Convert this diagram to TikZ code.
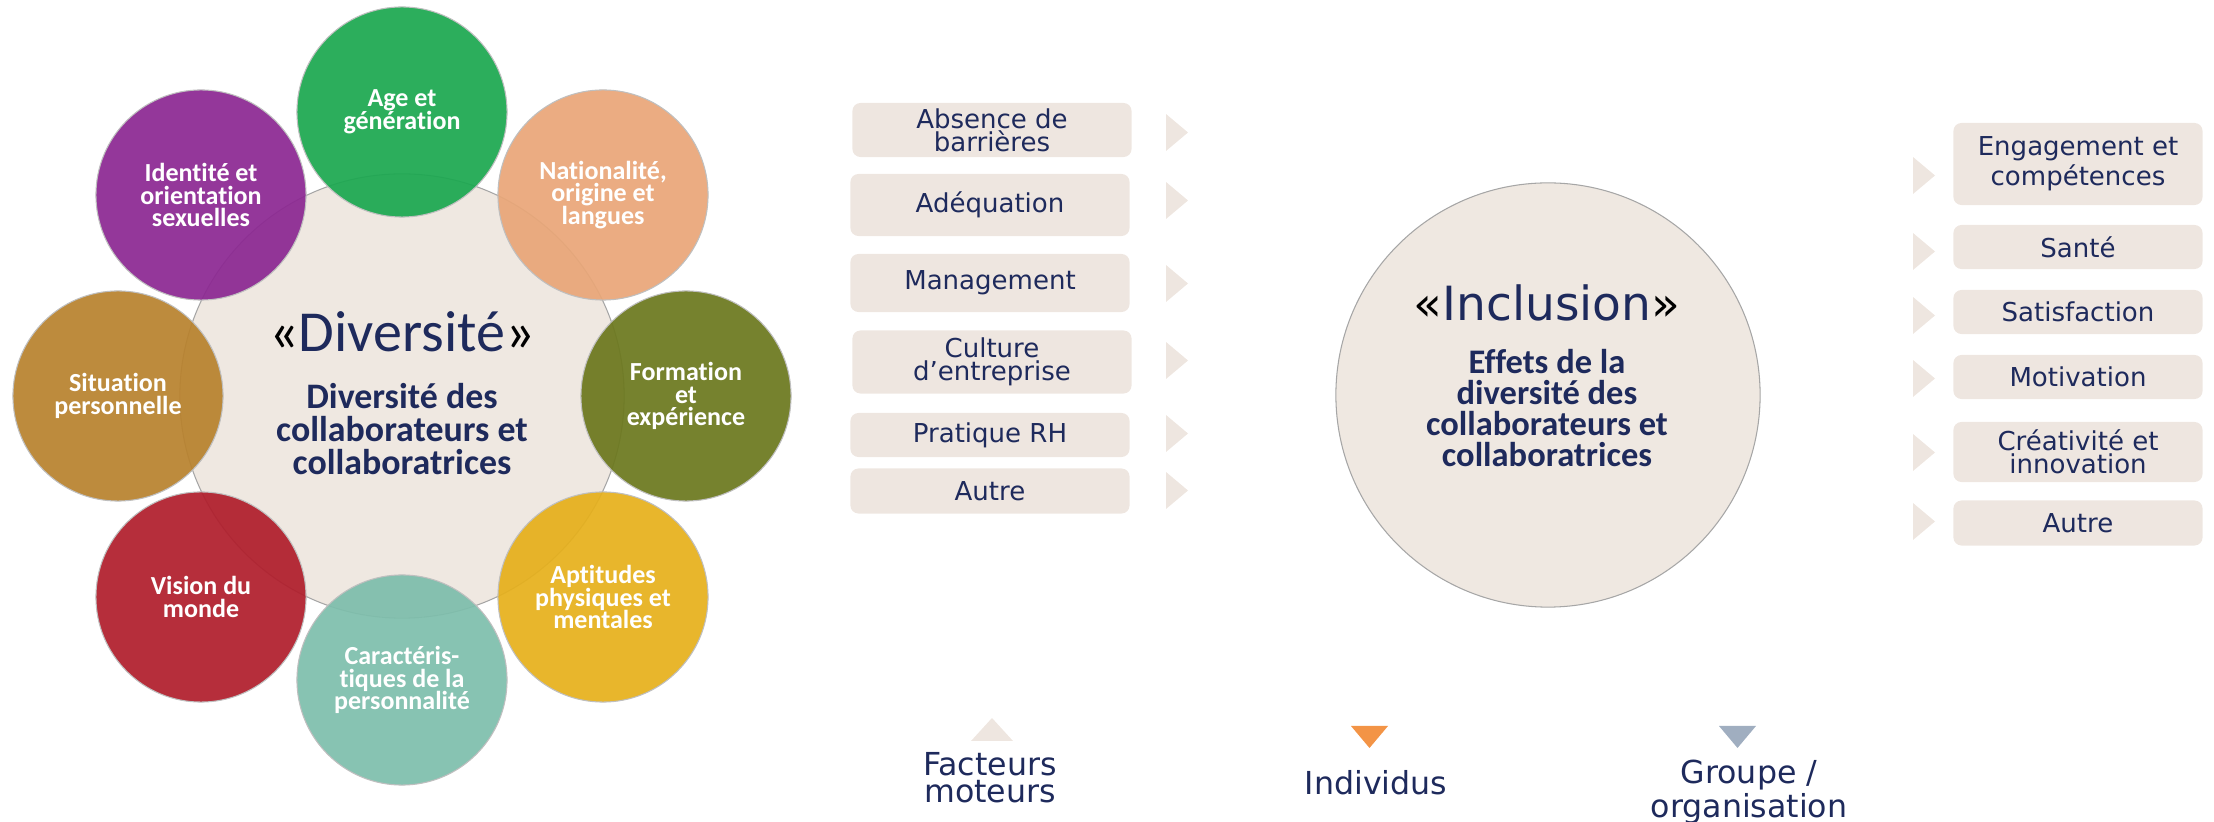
\documentclass[tikz,border=0pt]{standalone}
\usepackage{fontspec}
\setmainfont{DejaVu Sans}
\newfontfamily\calfont[Ligatures={NoCommon,NoContextual}]{Carlito}
\usetikzlibrary{positioning}
\definecolor{navy}{RGB}{30,42,92}
\definecolor{discbg}{RGB}{239,232,225}
\definecolor{boxbg}{RGB}{238,230,224}
\definecolor{cgreen}{RGB}{28,168,80}
\definecolor{cpeach}{RGB}{233,166,120}
\definecolor{colive}{RGB}{108,120,30}
\definecolor{cgold}{RGB}{230,176,28}
\definecolor{cteal}{RGB}{126,190,172}
\definecolor{ccrimson}{RGB}{176,30,44}
\definecolor{cochre}{RGB}{184,130,46}
\definecolor{cpurple}{RGB}{140,40,146}
\definecolor{corange}{RGB}{243,148,70}
\definecolor{cslate}{RGB}{160,174,192}
\begin{document}
\begin{tikzpicture}[x=0.01cm,y=-0.01cm,
bigdisc/.style={
% The shape:
circle,
inner sep=0pt,
fill=discbg,
draw=black!35,
line width=0.3pt
},
facet/.style={
circle,
inner sep=0pt,
minimum size=2.1cm,
draw=black!25,
line width=0.3pt,
fill opacity=0.93,
text opacity=1,
text=white,
align=center,
font=\calfont\bfseries\fontsize{7.4}{6.5}\selectfont
},
factor/.style={
rectangle,rounded corners=0.08cm,
inner sep=0pt,
fill=boxbg,
text=navy,
align=center,
font=\fontsize{7.4}{6.5}\selectfont
},
pointer/.style={fill=boxbg},
legend/.style={text=navy,inner sep=0pt,align=center}
]
\useasboundingbox (0,0) rectangle (2214,822);
% Diversity wheel:
\node (div) [bigdisc,minimum size=4.44cm] at (402,396) {};
\node (age) [facet,fill=cgreen] at (402,112) {Age et\\génération};
\node (nat) [facet,fill=cpeach] at (603,195) {Nationalité,\\origine et\\langues};
\node (form) [facet,fill=colive] at (686,396) {Formation\\et\\expérience};
\node (apt) [facet,fill=cgold] at (603,597) {Aptitudes\\physiques et\\mentales};
\node (carac) [facet,fill=cteal] at (402,680) {Caractéris-\\tiques de la\\personnalité};
\node (vision) [facet,fill=ccrimson] at (201,597) {Vision du\\monde};
\node (situ) [facet,fill=cochre] at (118,396) {Situation\\personnelle};
\node (ident) [facet,fill=cpurple] at (201,195) {Identité et\\orientation\\sexuelles};
\node (divtitle) [anchor=base,inner sep=0pt,text=navy,font=\calfont\fontsize{16.5}{18}\selectfont] at (402,352) {{\color{black}«}Diversité{\color{black}»}};
\node (divsub) [anchor=north,inner sep=0pt,text=navy,align=center,font=\calfont\bfseries\fontsize{10.2}{9.4}\selectfont] at (402,383) {Diversité des\\collaborateurs et\\collaboratrices};
% Driving factors:
\node (barr) [factor,minimum width=2.79cm,minimum height=0.54cm] at (992,130) {Absence de\\barrières};
\node (adeq) [factor,minimum width=2.79cm,minimum height=0.62cm] at (990,205) {Adéquation};
\node (manag) [factor,minimum width=2.79cm,minimum height=0.58cm] at (990,283) {Management};
\node (cult) [factor,minimum width=2.79cm,minimum height=0.63cm] at (992,362) {Culture\\d’entreprise};
\node (prat) [factor,minimum width=2.79cm,minimum height=0.44cm] at (990,435) {Pratique RH};
\node (autreA) [factor,minimum width=2.79cm,minimum height=0.45cm] at (990,491) {Autre};
\fill[pointer] (1166,114) -- ++(22,18.5) -- ++(-22,18.5) -- cycle;
\fill[pointer] (1166,182) -- ++(22,18.5) -- ++(-22,18.5) -- cycle;
\fill[pointer] (1166,265) -- ++(22,18.5) -- ++(-22,18.5) -- cycle;
\fill[pointer] (1166,342) -- ++(22,18.5) -- ++(-22,18.5) -- cycle;
\fill[pointer] (1166,415) -- ++(22,18.5) -- ++(-22,18.5) -- cycle;
\fill[pointer] (1166,472) -- ++(22,18.5) -- ++(-22,18.5) -- cycle;
% Inclusion:
\node (incl) [bigdisc,minimum size=4.24cm] at (1548,395) {};
\node (incltitle) [anchor=base,inner sep=0pt,text=navy,font=\fontsize{13.4}{15}\selectfont] at (1547,321) {{\color{black}«}Inclusion{\color{black}»}};
\node (inclsub) [anchor=north,inner sep=0pt,text=navy,align=center,font=\calfont\bfseries\fontsize{9.8}{8.8}\selectfont] at (1547,349) {Effets de la\\diversité des\\collaborateurs et\\collaboratrices};
% Effects:
\node (engag) [factor,minimum width=2.49cm,minimum height=0.82cm] at (2078,164) {Engagement et\\compétences};
\node (sante) [factor,minimum width=2.49cm,minimum height=0.44cm] at (2078,247) {Santé};
\node (satis) [factor,minimum width=2.49cm,minimum height=0.44cm] at (2078,312) {Satisfaction};
\node (motiv) [factor,minimum width=2.49cm,minimum height=0.44cm] at (2078,377) {Motivation};
\node (creat) [factor,minimum width=2.49cm,minimum height=0.60cm] at (2078,452) {Créativité et\\innovation};
\node (autreB) [factor,minimum width=2.49cm,minimum height=0.45cm] at (2078,523) {Autre};
\fill[pointer] (1913,157) -- ++(22,18.5) -- ++(-22,18.5) -- cycle;
\fill[pointer] (1913,233) -- ++(22,18.5) -- ++(-22,18.5) -- cycle;
\fill[pointer] (1913,297) -- ++(22,18.5) -- ++(-22,18.5) -- cycle;
\fill[pointer] (1913,360) -- ++(22,18.5) -- ++(-22,18.5) -- cycle;
\fill[pointer] (1913,434) -- ++(22,18.5) -- ++(-22,18.5) -- cycle;
\fill[pointer] (1913,503) -- ++(22,18.5) -- ++(-22,18.5) -- cycle;
% Legend:
\fill[pointer] (971,741) -- (992,718) -- (1013,741) -- cycle;
\fill[corange] (1351,726) -- (1388,726) -- (1369.5,748) -- cycle;
\fill[cslate] (1719,726) -- (1756,726) -- (1737.5,748) -- cycle;
\node (fact) [legend,anchor=north,font=\fontsize{9}{7.6}\selectfont] at (990,752) {Facteurs\\moteurs};
\node (indiv) [legend,anchor=base,font=\fontsize{9}{11}\selectfont] at (1376,795) {Individus};
\node (group) [legend,anchor=north,font=\fontsize{9}{8.5}\selectfont] at (1749,759) {Groupe /\\organisation};
\end{tikzpicture}
\end{document}
